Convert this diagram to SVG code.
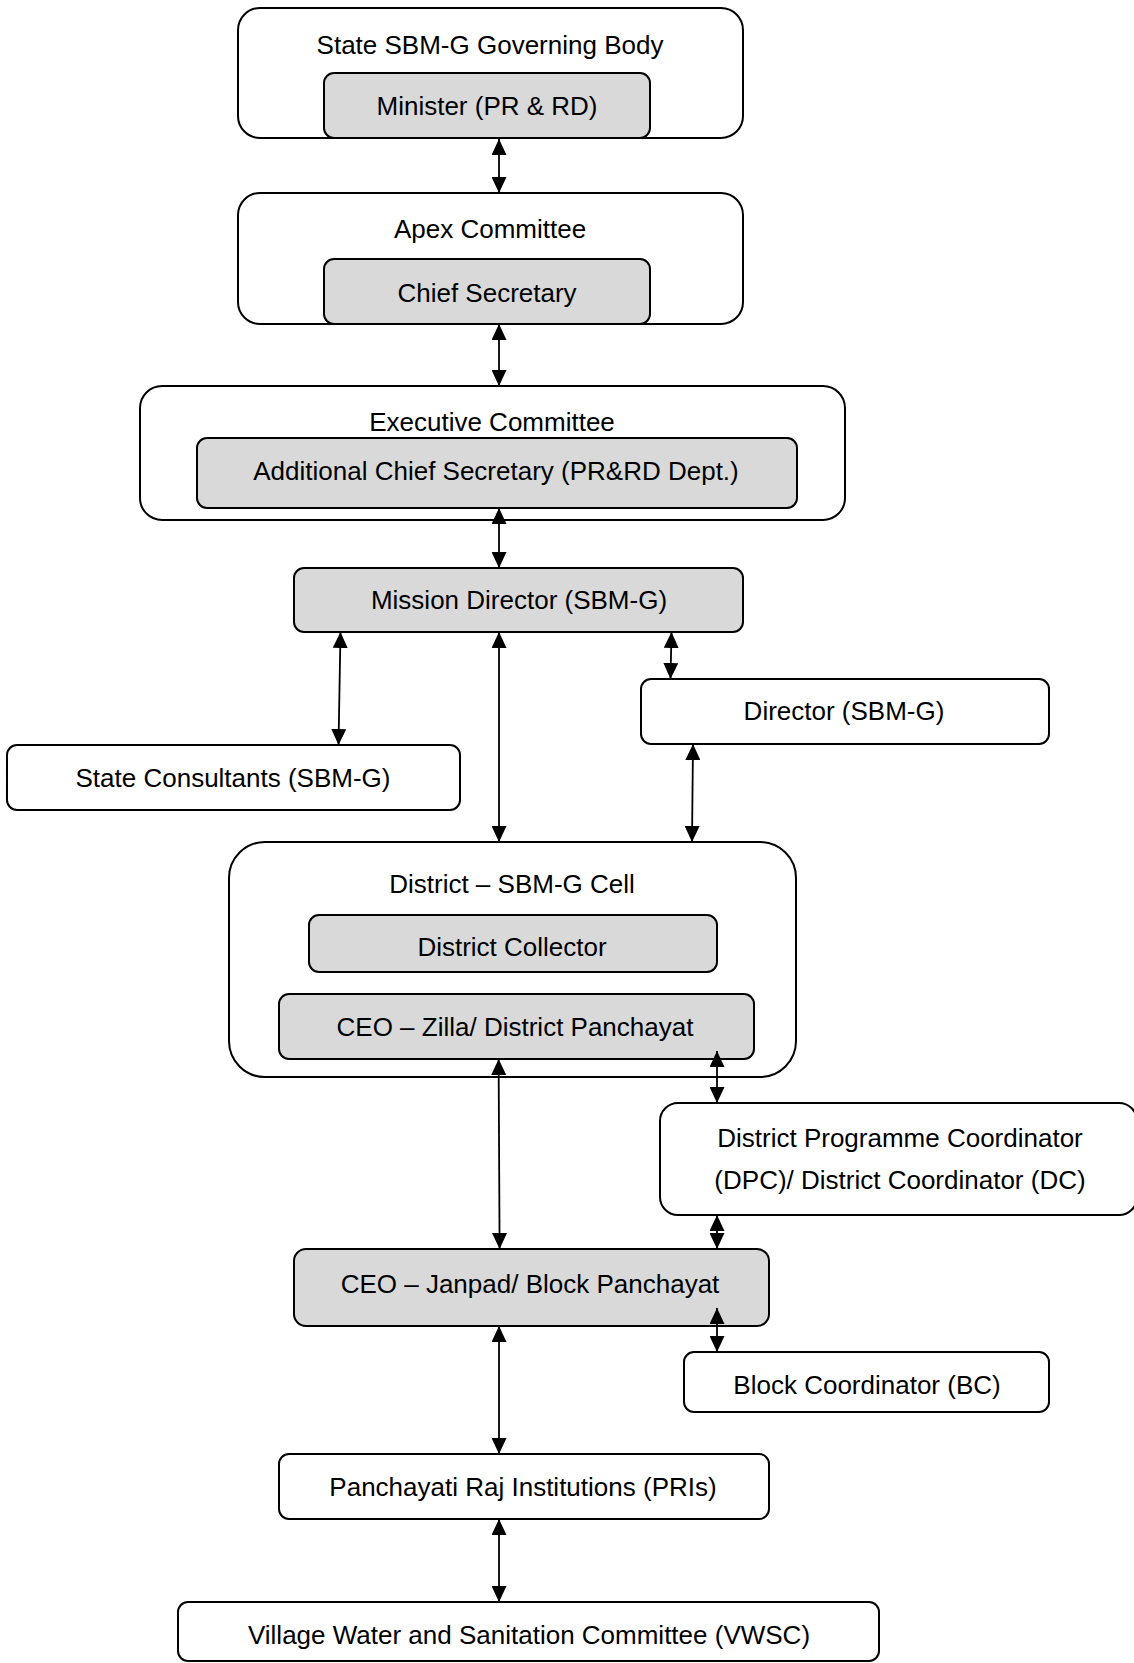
<svg xmlns="http://www.w3.org/2000/svg" width="1134" height="1663" viewBox="0 0 1134 1663">
<defs>
<marker id="ah" viewBox="0 0 16 15" refX="16" refY="7.5" markerWidth="16" markerHeight="15" markerUnits="userSpaceOnUse" orient="auto-start-reverse">
<path d="M0,0 L16,7.5 L0,15 z" fill="#000"/>
</marker>
<style>
.box{fill:#fff;stroke:#000;stroke-width:2}
.gray{fill:#d9d9d9;stroke:#000;stroke-width:2}
.t{font-family:"Liberation Sans",Arial,sans-serif;font-size:26px;fill:#000;text-anchor:middle}
.c{stroke:#000;stroke-width:1.8;fill:none;marker-start:url(#ah);marker-end:url(#ah)}
</style>
</defs>
<rect width="1134" height="1663" fill="#fff"/>
<g id="state-governing-body">
<rect class="box" x="238" y="8" width="505" height="130" rx="22"/>
<text class="t" x="490" y="54">State SBM-G Governing Body</text>
<g id="minister">
<rect class="gray" x="324" y="73" width="326" height="65" rx="10"/>
<text class="t" x="487" y="115">Minister (PR &amp; RD)</text>
</g>
</g>
<g id="apex-committee">
<rect class="box" x="238" y="193" width="505" height="131" rx="22"/>
<text class="t" x="490" y="238">Apex Committee</text>
<g id="chief-secretary">
<rect class="gray" x="324" y="259" width="326" height="65" rx="10"/>
<text class="t" x="487" y="302">Chief Secretary</text>
</g>
</g>
<g id="executive-committee">
<rect class="box" x="140" y="386" width="705" height="134" rx="22"/>
<text class="t" x="492" y="431">Executive Committee</text>
<g id="acs">
<rect class="gray" x="197" y="438" width="600" height="70" rx="10"/>
<text class="t" x="496" y="480">Additional Chief Secretary (PR&amp;RD Dept.)</text>
</g>
</g>
<g id="mission-director">
<rect class="gray" x="294" y="568" width="449" height="64" rx="10"/>
<text class="t" x="519" y="609">Mission Director (SBM-G)</text>
</g>
<g id="director">
<rect class="box" x="641" y="679" width="408" height="65" rx="10"/>
<text class="t" x="844" y="720">Director (SBM-G)</text>
</g>
<g id="state-consultants">
<rect class="box" x="7" y="745" width="453" height="65" rx="10"/>
<text class="t" x="233" y="787">State Consultants (SBM-G)</text>
</g>
<g id="district-cell">
<rect class="box" x="229" y="842" width="567" height="235" rx="36"/>
<text class="t" x="512" y="893">District – SBM-G Cell</text>
<g id="district-collector">
<rect class="gray" x="309" y="915" width="408" height="57" rx="10"/>
<text class="t" x="512" y="956">District Collector</text>
</g>
<g id="ceo-zilla">
<rect class="gray" x="279" y="994" width="475" height="65" rx="10"/>
<text class="t" x="515" y="1036">CEO – Zilla/ District Panchayat</text>
</g>
</g>
<g id="dpc">
<rect class="box" x="660" y="1103" width="477" height="112" rx="18"/>
<text class="t" x="900" y="1147">District Programme Coordinator</text>
<text class="t" x="900" y="1189">(DPC)/ District Coordinator (DC)</text>
</g>
<g id="ceo-janpad">
<rect class="gray" x="294" y="1249" width="475" height="77" rx="12"/>
<text class="t" x="530" y="1293">CEO – Janpad/ Block Panchayat</text>
</g>
<g id="block-coordinator">
<rect class="box" x="684" y="1352" width="365" height="60" rx="10"/>
<text class="t" x="867" y="1394">Block Coordinator (BC)</text>
</g>
<g id="pris">
<rect class="box" x="279" y="1454" width="490" height="65" rx="10"/>
<text class="t" x="523" y="1496">Panchayati Raj Institutions (PRIs)</text>
</g>
<g id="vwsc">
<rect class="box" x="178" y="1602" width="701" height="59" rx="10"/>
<text class="t" x="529" y="1644">Village Water and Sanitation Committee (VWSC)</text>
</g>
<g id="connectors">
<line class="c" x1="499" y1="139" x2="499" y2="193"/>
<line class="c" x1="499" y1="324" x2="499" y2="386"/>
<line class="c" x1="499" y1="508" x2="499" y2="568"/>
<line class="c" x1="340.5" y1="632" x2="338.5" y2="745"/>
<line class="c" x1="499" y1="632" x2="499" y2="842"/>
<line class="c" x1="671.5" y1="632" x2="670.5" y2="679"/>
<line class="c" x1="693" y1="744" x2="692" y2="842"/>
<line class="c" x1="498.6" y1="1059" x2="499.6" y2="1249"/>
<line class="c" x1="717" y1="1051" x2="717" y2="1103"/>
<line class="c" x1="717" y1="1215" x2="717" y2="1249"/>
<line class="c" x1="717" y1="1308" x2="717" y2="1352"/>
<line class="c" x1="499" y1="1326" x2="499" y2="1454"/>
<line class="c" x1="499" y1="1519" x2="499" y2="1602"/>
</g>
</svg>
